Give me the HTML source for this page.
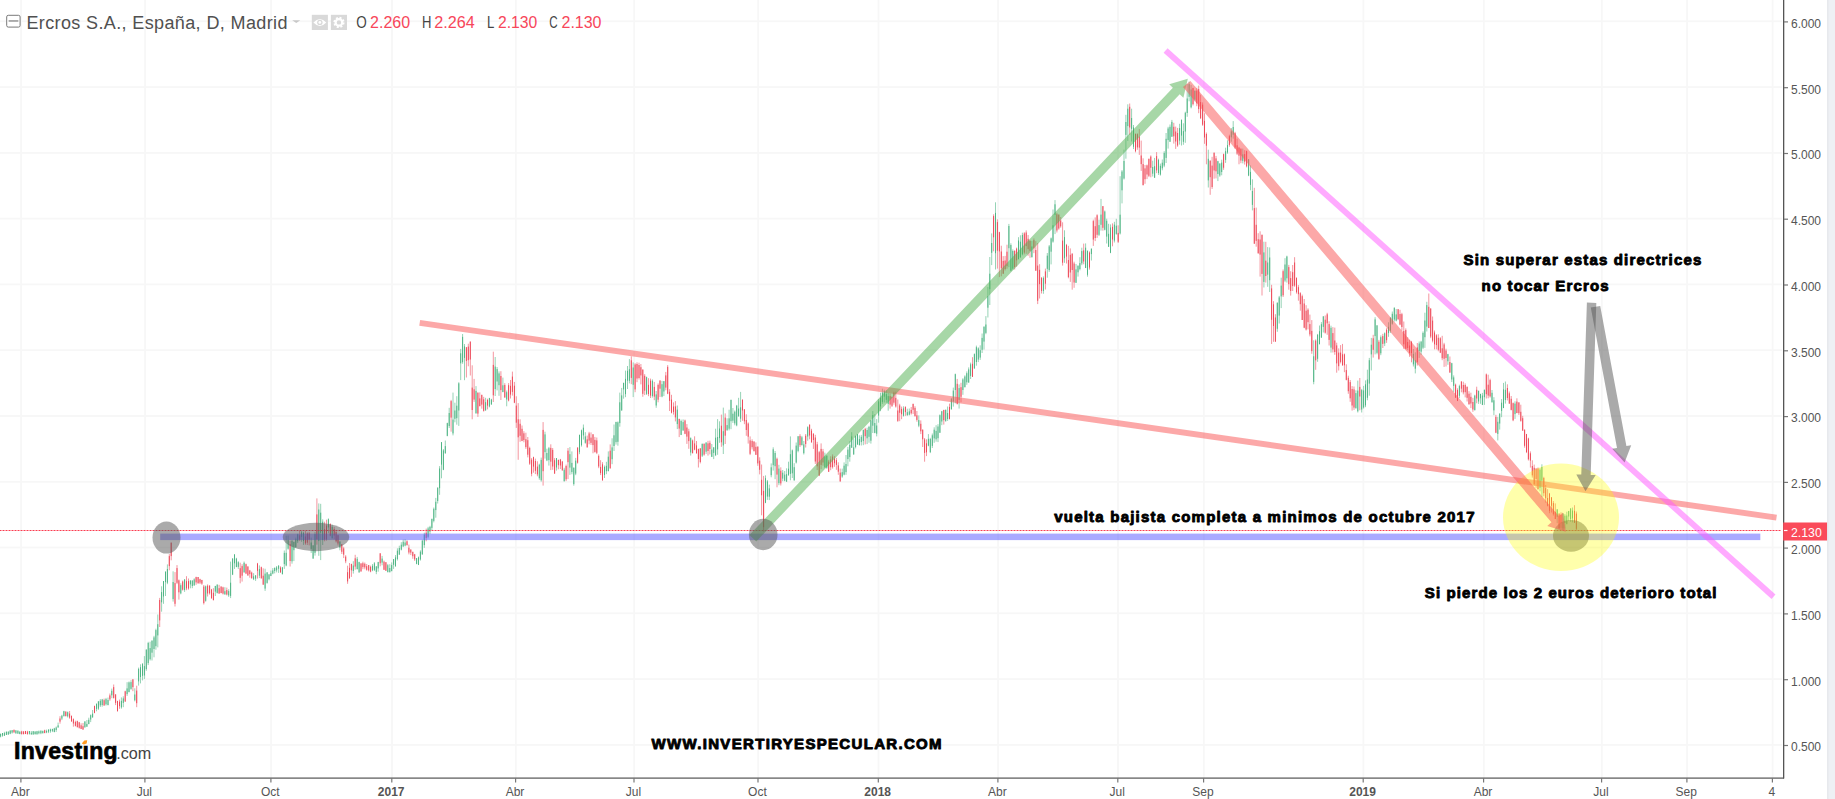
<!DOCTYPE html>
<html><head><meta charset="utf-8"><title>Ercros S.A.</title>
<style>
html,body{margin:0;padding:0;background:#fff;overflow:hidden}
svg{display:block}
text{font-family:"Liberation Sans",sans-serif}
.ab{font-family:"Liberation Sans",sans-serif;font-weight:bold;font-size:15px;fill:#000;stroke:#000;stroke-width:.9px;paint-order:stroke;stroke-linejoin:round}
.ax{font-size:12px;fill:#555}
</style></head><body>
<svg width="1835" height="799" viewBox="0 0 1835 799">
<rect width="1835" height="799" fill="#fff"/>
<g fill="#f7f7f7">
<rect x="20.2" y="0" width="1.8" height="778"/><rect x="144.2" y="0" width="1.8" height="778"/><rect x="270.2" y="0" width="1.8" height="778"/><rect x="391.1" y="0" width="1.8" height="778"/><rect x="514.9" y="0" width="1.8" height="778"/><rect x="633.3" y="0" width="1.8" height="778"/><rect x="757.3" y="0" width="1.8" height="778"/><rect x="877.6" y="0" width="1.8" height="778"/><rect x="997.2" y="0" width="1.8" height="778"/><rect x="1117.1" y="0" width="1.8" height="778"/><rect x="1202.9" y="0" width="1.8" height="778"/><rect x="1362.5" y="0" width="1.8" height="778"/><rect x="1482.9" y="0" width="1.8" height="778"/><rect x="1600.9" y="0" width="1.8" height="778"/><rect x="1686.2" y="0" width="1.8" height="778"/><rect x="1771.7" y="0" width="1.8" height="778"/><rect x="0" y="20.4" width="1782" height="1.8"/><rect x="0" y="86.2" width="1782" height="1.8"/><rect x="0" y="152.0" width="1782" height="1.8"/><rect x="0" y="217.7" width="1782" height="1.8"/><rect x="0" y="283.5" width="1782" height="1.8"/><rect x="0" y="349.3" width="1782" height="1.8"/><rect x="0" y="415.1" width="1782" height="1.8"/><rect x="0" y="480.9" width="1782" height="1.8"/><rect x="0" y="546.6" width="1782" height="1.8"/><rect x="0" y="612.4" width="1782" height="1.8"/><rect x="0" y="678.2" width="1782" height="1.8"/><rect x="0" y="744.0" width="1782" height="1.8"/>
</g>
<g fill="none" stroke-width="1">
<path stroke="#96d3b6" d="M0.6 733.7V737.4M2.5 733.0V736.7M4.4 731.8V736.0M6.4 731.6V735.0M8.3 731.5V734.8M10.2 730.4V734.2M12.1 730.2V733.6M15.9 730.0V733.6M17.9 730.4V733.8M19.8 731.0V734.3M29.4 731.0V734.6M31.3 731.0V734.8M33.2 731.1V734.8M35.1 731.2V734.3M37.0 730.9V734.4M38.9 730.5V734.3M40.9 730.3V734.2M42.8 730.5V733.5M46.6 729.6V733.2M48.5 729.1V733.1M50.4 728.6V732.8M52.4 728.7V732.1M54.3 727.8V732.2M56.2 726.5V731.9M58.1 722.6V727.6M61.9 714.8V720.1M63.9 710.8V716.7M67.7 711.5V717.5M84.9 721.2V727.5M86.9 720.0V726.8M88.8 717.7V724.3M90.7 714.4V722.1M92.6 710.0V717.7M96.5 703.7V711.3M98.4 701.1V709.9M100.3 699.1V707.0M102.2 698.9V706.7M106.0 697.9V705.5M108.0 697.6V705.3M111.8 688.6V698.2M121.4 697.4V708.7M123.3 696.3V707.2M127.1 682.2V695.9M129.0 681.5V692.3M131.0 680.2V689.8M134.8 688.3V701.4M138.6 667.6V685.6M140.5 664.3V683.4M142.5 663.1V680.4M144.4 656.1V679.1M146.3 649.4V670.8M148.2 641.8V665.1M150.1 641.7V660.5M152.0 640.3V660.5M154.0 635.8V657.3M155.9 628.7V649.7M157.8 614.5V647.4M161.6 586.3V611.7M163.5 581.1V603.8M165.5 571.4V596.0M167.4 564.4V584.2M173.1 571.3V601.6M180.8 583.3V594.3M184.6 579.0V591.9M190.4 580.0V588.3M192.3 580.4V588.2M194.2 578.3V585.9M205.7 585.5V601.7M215.3 585.8V596.0M217.2 584.4V593.5M224.9 587.2V594.7M228.7 589.2V596.9M230.6 561.6V598.1M232.6 558.2V575.1M234.5 554.0V568.9M236.4 557.8V567.3M238.3 561.2V568.9M244.1 561.5V572.6M253.6 573.2V580.1M255.6 575.1V580.9M259.4 565.4V578.1M265.1 568.7V590.9M267.1 572.1V583.7M269.0 574.2V580.3M270.9 570.6V576.1M272.8 568.1V574.3M274.7 567.3V573.4M276.6 566.0V572.4M278.6 565.3V572.9M282.4 566.9V574.4M284.3 550.5V568.9M286.2 535.7V566.3M288.1 535.5V549.7M292.0 540.5V563.7M293.9 541.6V561.1M295.8 537.6V547.5M297.7 533.7V543.1M301.6 530.9V541.8M303.5 531.7V544.9M311.2 537.6V552.9M313.1 545.2V559.0M315.0 532.0V555.6M318.8 503.4V555.8M320.7 503.8V560.1M322.7 519.3V545.0M328.4 518.4V533.3M332.2 524.7V538.4M339.9 541.3V550.3M353.3 561.2V573.6M357.2 556.9V569.3M359.1 561.7V572.7M372.5 564.1V571.2M374.4 562.1V571.0M376.3 566.0V574.2M378.2 561.8V571.7M382.1 555.9V565.3M387.8 563.9V572.3M389.8 564.2V572.6M391.7 562.4V571.3M393.6 559.0V568.9M395.5 555.1V566.6M397.4 548.3V560.5M399.3 545.7V554.9M401.3 542.2V550.4M403.2 539.5V547.1M405.1 539.1V546.3M416.6 558.0V564.3M418.5 556.5V565.1M420.4 550.3V560.6M422.3 539.7V554.7M424.3 532.7V547.9M428.1 526.8V538.3M430.0 525.8V534.0M431.9 518.8V530.2M433.8 507.5V522.4M435.8 497.9V517.7M437.7 487.0V503.5M439.6 466.1V494.8M441.5 442.0V478.3M443.4 449.1V470.2M445.3 440.5V453.8M447.3 422.7V436.3M449.2 407.8V428.0M453.0 392.6V435.4M454.9 402.7V422.3M456.8 396.2V424.7M458.8 382.2V425.9M460.7 348.9V380.1M462.6 334.0V363.8M464.5 344.0V380.2M476.0 386.1V413.5M485.6 397.8V410.8M489.4 397.8V407.4M491.4 398.8V404.8M495.2 357.0V396.0M497.1 367.0V390.4M499.0 371.4V395.8M502.9 377.6V392.3M506.7 390.5V406.3M539.3 463.7V479.8M541.2 457.6V481.7M545.0 431.7V458.6M546.9 448.7V461.2M548.9 446.9V465.6M556.5 458.0V470.6M564.2 467.8V481.6M569.9 447.1V474.9M571.9 451.4V474.3M573.8 467.1V485.7M575.7 457.9V475.2M579.5 434.8V454.2M581.5 429.6V446.6M583.4 424.5V439.6M585.3 432.2V443.7M604.5 465.5V478.0M606.4 461.8V474.2M608.3 451.4V471.5M612.1 438.3V464.2M614.0 424.5V451.0M616.0 421.7V444.6M617.9 421.4V445.7M619.8 392.6V426.7M621.7 387.9V410.9M623.6 382.7V398.7M625.5 370.6V397.2M627.5 366.0V389.0M629.4 359.1V383.4M633.2 362.4V397.1M646.6 376.6V395.0M652.4 379.4V397.6M656.2 391.0V407.8M662.0 380.9V397.3M663.9 381.1V396.1M677.3 405.5V429.1M681.1 419.6V435.1M683.1 419.4V430.6M690.7 437.3V455.6M702.2 443.3V457.0M706.1 442.1V453.9M711.8 444.0V457.0M713.7 447.3V459.1M715.6 428.7V456.1M717.6 419.1V454.8M719.5 421.3V442.8M723.3 407.6V454.0M727.1 418.3V430.8M729.1 409.7V430.4M731.0 399.8V429.2M732.9 408.0V422.9M734.8 410.5V425.3M736.7 404.9V426.3M738.6 397.8V416.7M740.6 391.9V422.1M765.5 475.4V503.2M767.4 480.0V499.9M769.3 484.6V500.1M771.2 463.4V477.3M773.2 447.3V470.6M775.1 451.0V479.2M778.9 464.8V485.2M782.7 470.0V481.2M784.7 471.0V481.3M786.6 468.3V481.8M788.5 461.7V475.9M790.4 436.4V480.3M792.3 449.5V478.0M794.2 463.2V480.9M796.2 442.5V463.5M798.1 436.1V452.3M801.9 435.9V445.4M803.8 441.0V454.5M807.7 426.3V440.7M824.9 452.7V468.0M826.8 455.0V468.8M842.2 468.6V477.8M844.1 462.4V475.3M846.0 455.0V474.8M847.9 446.9V466.3M849.8 441.2V461.7M851.7 432.2V447.9M853.7 438.6V454.9M855.6 435.4V448.4M857.5 434.0V445.0M859.4 435.3V445.6M861.3 434.9V445.5M863.3 429.5V445.2M867.1 427.7V444.1M869.0 425.8V442.7M870.9 420.0V443.6M872.8 411.1V433.0M874.8 414.1V433.3M876.7 419.1V436.4M878.6 399.1V422.7M880.5 392.7V411.2M882.4 388.7V403.9M884.3 389.7V402.5M886.3 390.3V402.7M888.2 393.0V410.7M903.5 406.3V416.6M907.3 408.7V415.8M909.3 408.5V415.4M918.8 415.4V427.2M928.4 434.1V446.3M930.3 437.8V453.1M932.3 433.5V448.0M934.2 427.3V442.8M936.1 425.2V441.7M938.0 424.2V442.1M939.9 414.4V433.0M941.8 410.9V425.2M945.7 409.3V421.6M947.6 406.5V420.9M951.4 397.9V409.7M953.3 387.6V406.6M955.3 373.6V403.4M959.1 384.4V408.6M962.9 378.2V394.8M964.9 375.3V387.5M966.8 371.4V384.8M968.7 367.4V382.8M970.6 362.6V379.0M974.4 353.4V368.8M976.4 345.6V365.7M978.3 347.3V362.1M980.2 345.3V359.9M982.1 333.5V353.0M984.0 326.0V349.6M985.9 316.1V334.2M987.9 286.9V317.5M989.8 257.0V305.0M991.7 233.4V265.1M995.5 202.3V269.5M1008.9 223.9V267.2M1010.9 243.3V271.4M1012.8 249.4V269.7M1018.5 237.2V259.3M1020.4 235.3V258.0M1022.4 232.7V255.4M1031.9 240.9V257.3M1043.4 276.4V293.8M1047.3 253.0V277.7M1049.2 245.0V271.9M1051.1 237.5V264.4M1053.0 209.5V242.7M1055.0 200.1V234.1M1064.5 230.3V262.8M1076.0 264.0V282.8M1078.0 265.3V276.6M1079.9 257.2V270.4M1081.8 247.7V265.2M1085.6 243.4V268.1M1087.5 250.5V276.7M1091.4 248.5V260.5M1099.0 219.7V236.1M1101.0 198.9V230.6M1104.8 210.5V230.4M1106.7 218.7V243.5M1108.6 223.8V246.9M1110.5 224.4V253.2M1114.4 221.8V242.5M1116.3 218.8V234.8M1120.1 176.2V234.5M1122.0 170.1V203.4M1124.0 149.6V179.5M1125.9 114.8V158.7M1127.8 104.3V140.9M1131.6 108.7V141.5M1133.5 125.0V149.1M1152.7 160.7V176.5M1154.6 157.9V178.0M1158.5 158.7V174.9M1160.4 163.6V175.6M1162.3 159.5V170.3M1164.2 151.2V167.2M1166.1 133.0V163.0M1168.1 126.8V148.6M1170.0 124.5V142.0M1171.9 119.9V137.0M1179.6 123.8V144.6M1181.5 119.6V145.5M1183.4 123.3V144.8M1185.3 111.7V142.8M1187.2 84.0V116.8M1189.1 81.6V101.3M1191.1 84.9V108.4M1194.9 90.1V101.3M1208.3 149.7V187.5M1217.9 160.8V181.1M1219.8 163.2V176.8M1221.7 159.7V175.3M1225.6 147.7V162.9M1227.5 140.3V153.8M1231.3 128.0V141.7M1233.2 121.1V138.7M1242.8 148.6V163.4M1248.6 159.0V176.2M1250.5 165.4V190.3M1252.4 179.3V210.4M1263.9 241.7V287.5M1267.7 247.1V286.8M1269.7 247.4V292.0M1277.3 302.4V331.8M1279.2 295.9V323.5M1281.2 277.7V308.1M1285.0 258.2V282.2M1286.9 255.7V282.6M1313.7 340.3V384.3M1317.6 333.9V361.8M1319.5 325.5V344.6M1321.4 322.1V338.0M1323.3 316.0V332.5M1331.0 325.7V352.6M1355.9 390.3V408.9M1357.8 380.6V412.5M1361.7 388.9V412.5M1363.6 385.9V408.6M1365.5 380.4V407.2M1367.4 369.7V400.3M1369.3 357.9V395.7M1371.3 337.9V370.4M1375.1 317.2V354.4M1377.0 325.0V354.3M1380.8 335.4V355.2M1384.7 332.4V346.1M1388.5 322.3V336.8M1390.4 317.4V332.9M1392.3 311.5V324.7M1394.3 307.1V321.5M1396.2 309.0V321.4M1413.4 349.0V366.5M1415.3 352.3V373.4M1419.2 341.5V357.9M1421.1 340.8V354.9M1423.0 331.4V349.0M1424.9 312.7V347.9M1426.8 301.8V331.5M1447.9 353.8V364.8M1451.8 362.8V382.0M1453.7 375.4V391.9M1459.4 384.7V398.1M1474.8 394.7V410.7M1478.6 390.7V403.9M1480.5 393.7V403.8M1482.4 392.9V405.1M1484.4 389.6V404.9M1492.0 390.0V402.8M1493.9 397.2V415.2M1497.8 416.9V440.4M1499.7 413.1V429.6M1501.6 399.1V417.2M1503.5 382.9V408.2M1505.4 381.5V403.6M1515.0 401.3V418.9M1540.0 468.1V491.3M1541.9 464.3V497.0M1557.2 509.0V523.2M1563.0 513.0V530.3M1564.9 514.1V528.5M1566.8 511.7V524.4M1568.7 510.9V521.1M1570.6 508.2V521.8M1572.5 507.5V522.4"/>
<path stroke="#f4959f" d="M14.0 729.5V733.1M21.7 730.8V734.4M23.6 731.1V734.4M25.5 730.9V734.1M27.4 730.8V734.3M44.7 729.7V733.2M60.0 716.2V723.7M65.8 711.2V716.3M69.6 711.0V718.8M71.5 715.5V721.5M73.4 718.4V726.7M75.4 720.7V726.5M77.3 720.6V727.4M79.2 721.9V728.6M81.1 723.3V729.0M83.0 723.0V729.9M94.5 705.6V713.3M104.1 698.6V705.9M109.9 693.5V700.8M113.7 684.5V698.6M115.6 694.1V705.1M117.5 700.7V711.6M119.5 699.6V708.8M125.2 690.7V701.7M132.9 679.1V691.2M136.7 685.7V707.2M159.7 597.9V627.0M169.3 554.1V570.3M171.2 542.5V560.3M175.0 572.1V606.5M177.0 565.1V584.1M178.9 579.5V599.6M182.7 580.5V590.6M186.5 576.2V590.2M188.5 578.5V589.7M196.1 576.7V584.8M198.1 577.0V583.8M200.0 578.7V584.0M201.9 579.8V584.8M203.8 585.0V604.5M207.6 584.4V596.5M209.6 585.5V594.6M211.5 588.9V598.6M213.4 588.2V600.3M219.1 584.8V593.7M221.1 586.1V593.2M223.0 586.7V594.5M226.8 587.6V595.4M240.2 562.7V583.3M242.1 564.2V581.6M246.0 563.6V574.1M247.9 566.0V575.7M249.8 569.9V577.7M251.7 571.6V578.7M257.5 562.9V578.6M261.3 566.6V578.6M263.2 568.3V584.9M280.5 566.3V572.5M290.1 540.8V566.5M299.7 530.5V541.1M305.4 530.9V544.8M307.3 532.4V545.0M309.2 531.9V545.4M316.9 498.4V544.7M324.6 521.7V541.3M326.5 519.7V540.6M330.3 523.4V536.3M334.2 526.9V539.2M336.1 529.8V542.5M338.0 534.8V545.5M341.8 544.1V554.0M343.7 546.8V558.1M345.7 555.2V563.2M347.6 565.7V583.8M349.5 563.0V579.0M351.4 563.8V576.9M355.2 554.8V569.7M361.0 563.0V571.7M362.9 561.7V569.2M364.8 562.5V569.3M366.7 564.0V570.7M368.7 565.0V571.5M370.6 565.6V572.3M380.2 553.1V566.3M384.0 560.6V569.8M385.9 562.0V571.0M407.0 540.3V545.6M408.9 544.6V554.4M410.8 549.0V555.1M412.8 551.6V558.8M414.7 553.9V560.9M426.2 528.6V541.3M451.1 399.9V431.7M466.4 347.0V377.5M468.3 343.7V366.3M470.3 341.2V375.5M472.2 365.3V419.3M474.1 378.9V401.9M477.9 392.1V416.9M479.8 392.4V406.4M481.8 394.5V408.7M483.7 396.8V411.6M487.5 398.7V409.4M493.3 351.7V402.0M500.9 371.2V400.0M504.8 383.2V398.0M508.6 383.1V401.4M510.5 380.0V398.5M512.4 371.6V395.6M514.4 381.9V403.2M516.3 396.3V427.9M518.2 403.1V459.8M520.1 419.3V441.8M522.0 425.5V441.2M523.9 431.2V442.3M525.9 432.7V448.9M527.8 437.0V457.4M529.7 446.7V464.9M531.6 458.1V476.3M533.5 456.7V472.7M535.4 458.6V474.1M537.4 461.3V476.3M543.1 422.1V485.6M550.8 444.3V470.1M552.7 448.0V469.8M554.6 458.1V473.8M558.4 459.5V469.3M560.4 458.9V469.0M562.3 460.9V470.7M566.1 464.6V481.1M568.0 448.0V479.1M577.6 447.2V463.6M587.2 435.6V447.5M589.1 431.8V444.3M591.0 432.4V444.9M593.0 434.2V453.3M594.9 436.9V452.7M596.8 437.5V454.1M598.7 454.4V468.2M600.6 460.2V475.1M602.5 462.2V480.8M610.2 444.4V468.7M631.3 356.3V384.2M635.1 363.2V392.2M637.0 362.3V382.2M639.0 362.7V379.5M640.9 364.0V384.4M642.8 369.4V396.8M644.7 374.1V395.1M648.5 378.2V396.2M650.5 378.6V398.0M654.3 381.9V400.2M658.1 383.4V402.3M660.0 380.2V397.0M665.8 371.9V390.3M667.7 365.1V394.2M669.6 389.2V411.0M671.5 394.8V413.4M673.5 402.4V414.6M675.4 401.1V421.4M679.2 418.6V437.1M685.0 419.6V434.2M686.9 424.1V443.9M688.8 428.8V448.8M692.6 439.5V453.4M694.6 436.3V450.3M696.5 441.0V453.9M698.4 448.6V467.5M700.3 448.0V463.4M704.1 443.6V455.7M708.0 440.8V455.6M709.9 440.6V454.4M721.4 414.6V446.8M725.2 413.4V444.0M742.5 399.5V420.8M744.4 409.1V424.2M746.3 414.3V435.8M748.2 422.4V443.6M750.1 436.4V455.1M752.1 439.3V449.5M754.0 441.1V451.4M755.9 442.4V454.9M757.8 446.5V465.8M759.7 457.3V474.4M761.6 464.5V515.3M763.6 475.9V531.5M777.0 457.6V487.3M780.8 467.3V485.5M800.0 434.1V447.0M805.7 434.0V447.5M809.6 424.4V439.3M811.5 428.8V442.5M813.4 433.3V448.9M815.3 434.8V463.9M817.2 441.8V470.1M819.2 450.9V476.1M821.1 443.4V469.1M823.0 448.9V465.7M828.7 459.8V471.9M830.7 456.3V470.2M832.6 454.4V468.6M834.5 456.1V466.8M836.4 457.9V469.8M838.3 462.3V474.8M840.2 468.6V481.5M865.2 427.8V444.4M890.1 393.5V408.6M892.0 396.6V407.0M893.9 391.6V404.7M895.8 391.6V407.6M897.8 399.5V421.9M899.7 403.8V421.2M901.6 406.6V419.2M905.4 406.7V415.9M911.2 407.0V414.6M913.1 403.5V414.0M915.0 406.2V416.7M916.9 411.0V421.7M920.8 420.4V434.1M922.7 429.3V447.0M924.6 438.0V461.7M926.5 439.3V456.1M943.8 409.9V424.6M949.5 403.6V419.5M957.2 378.9V404.5M961.0 382.8V402.3M972.5 357.2V377.0M993.6 214.3V251.3M997.4 219.3V268.6M999.4 231.8V277.1M1001.3 245.7V276.3M1003.2 256.1V274.0M1005.1 255.9V270.5M1007.0 244.7V268.7M1014.7 250.3V269.5M1016.6 247.6V266.7M1024.3 232.2V254.4M1026.2 230.4V253.8M1028.1 235.0V255.8M1030.0 240.7V257.8M1033.9 238.4V253.2M1035.8 241.1V271.0M1037.7 243.0V304.1M1039.6 264.2V298.5M1041.5 277.0V293.5M1045.4 268.6V289.5M1056.9 212.8V232.5M1058.8 214.3V229.7M1060.7 217.0V227.7M1062.6 222.3V265.6M1066.5 243.9V263.5M1068.4 245.8V278.3M1070.3 248.4V281.9M1072.2 253.0V289.7M1074.1 261.7V287.8M1083.7 243.6V264.3M1089.5 251.4V269.6M1093.3 219.7V245.9M1095.2 217.4V241.1M1097.1 214.3V237.9M1102.9 206.0V230.7M1112.5 223.4V246.3M1118.2 225.3V243.0M1129.7 103.5V134.8M1135.5 133.4V152.4M1137.4 133.3V149.8M1139.3 129.1V154.9M1141.2 140.6V170.9M1143.1 158.3V185.3M1145.0 165.0V183.8M1147.0 164.6V179.1M1148.9 158.5V177.1M1150.8 155.4V177.3M1156.6 152.1V173.2M1173.8 122.8V143.6M1175.7 126.6V148.9M1177.6 127.9V146.8M1193.0 87.8V105.5M1196.8 87.9V106.2M1198.7 85.6V113.2M1200.6 94.6V119.1M1202.6 102.4V125.8M1204.5 113.2V143.8M1206.4 132.5V164.3M1210.2 160.0V194.8M1212.1 156.8V188.9M1214.1 152.6V178.7M1216.0 155.9V178.4M1223.6 153.6V169.8M1229.4 134.7V146.7M1235.1 131.8V148.9M1237.1 138.7V154.9M1239.0 146.8V164.3M1240.9 148.1V163.2M1244.7 150.2V164.6M1246.6 150.6V167.4M1254.3 187.8V243.8M1256.2 207.6V246.7M1258.2 233.2V254.0M1260.1 231.3V276.6M1262.0 234.3V295.5M1265.8 241.8V282.6M1271.6 284.8V344.0M1273.5 301.2V341.8M1275.4 314.2V342.0M1283.1 269.5V297.0M1288.8 264.9V289.7M1290.7 271.2V295.6M1292.7 265.0V291.0M1294.6 257.2V286.8M1296.5 277.7V293.6M1298.4 285.1V300.7M1300.3 292.2V310.7M1302.2 294.6V320.0M1304.2 299.0V328.2M1306.1 305.2V330.5M1308.0 308.3V329.4M1309.9 314.6V336.4M1311.8 320.1V353.8M1315.7 339.4V369.8M1325.2 315.5V333.6M1327.2 312.8V334.8M1329.1 321.3V345.5M1332.9 327.1V352.5M1334.8 327.6V354.8M1336.7 342.7V372.7M1338.7 348.4V370.5M1340.6 345.1V363.4M1342.5 343.9V365.8M1344.4 353.5V372.2M1346.3 364.3V380.4M1348.3 375.7V393.8M1350.2 380.0V401.8M1352.1 386.1V410.6M1354.0 386.5V409.9M1359.8 378.0V410.3M1373.2 334.8V357.6M1378.9 339.9V359.9M1382.8 333.8V348.0M1386.6 328.2V342.9M1398.1 309.1V320.1M1400.0 309.8V325.2M1401.9 312.8V330.7M1403.8 321.5V348.9M1405.8 328.4V349.2M1407.7 337.2V350.0M1409.6 339.7V356.8M1411.5 340.9V362.3M1417.3 343.0V365.6M1428.8 293.5V328.1M1430.7 308.4V338.2M1432.6 316.5V342.4M1434.5 330.5V349.4M1436.4 334.2V349.4M1438.3 334.3V351.3M1440.3 337.2V353.1M1442.2 335.8V360.2M1444.1 342.8V366.9M1446.0 348.7V366.5M1449.9 356.5V372.7M1455.6 383.6V397.8M1457.5 388.3V401.1M1461.4 381.3V392.3M1463.3 381.7V394.4M1465.2 383.4V397.4M1467.1 386.4V401.5M1469.0 391.2V405.0M1470.9 392.7V408.1M1472.9 397.8V411.8M1476.7 386.7V403.3M1486.3 373.5V398.5M1488.2 374.7V398.3M1490.1 378.7V397.6M1495.9 414.8V433.2M1507.4 384.3V400.4M1509.3 391.5V403.8M1511.2 396.0V410.4M1513.1 402.5V421.2M1516.9 398.3V413.3M1518.9 402.0V415.0M1520.8 404.7V421.7M1522.7 415.9V430.9M1524.6 429.1V447.7M1526.5 433.9V453.1M1528.4 437.7V460.5M1530.4 451.4V467.6M1532.3 460.3V477.6M1534.2 464.6V485.6M1536.1 468.3V487.9M1538.0 467.5V489.6M1543.8 476.8V496.3M1545.7 485.0V502.7M1547.6 489.2V506.4M1549.5 492.9V513.2M1551.5 497.3V512.5M1553.4 501.1V515.6M1555.3 503.4V519.1M1559.1 513.3V528.8M1561.0 512.3V527.8M1574.5 505.2V523.0M1576.4 511.5V530.3"/>
<path stroke="#4fb585" d="M0.6 733.8V736.6M2.5 733.0V735.6M4.4 733.1V735.7M6.4 731.7V734.9M8.3 731.6V734.5M10.2 730.5V733.7M12.1 730.2V732.6M15.9 730.5V733.4M17.9 730.7V733.6M19.8 731.9V734.0M29.4 731.0V733.8M31.3 732.7V734.3M33.2 731.2V734.4M35.1 731.6V734.3M37.0 731.3V734.4M38.9 731.4V733.3M40.9 730.8V733.3M42.8 731.1V733.2M46.6 730.9V732.5M48.5 729.8V731.7M50.4 729.4V731.3M52.4 729.1V730.8M54.3 728.4V732.1M56.2 727.5V730.0M58.1 725.4V727.5M61.9 715.7V718.6M63.9 711.2V716.0M67.7 712.2V716.3M84.9 721.5V727.4M86.9 723.9V726.7M88.8 719.8V724.0M90.7 715.2V719.5M92.6 713.7V717.4M96.5 703.7V708.9M98.4 701.4V708.7M100.3 700.8V705.4M102.2 699.5V705.0M106.0 699.1V704.3M108.0 700.0V705.1M111.8 690.8V695.3M121.4 700.9V707.4M123.3 698.4V702.9M127.1 688.4V694.1M129.0 682.4V692.1M131.0 682.1V688.9M134.8 694.5V700.3M138.6 668.9V681.4M140.5 667.2V677.0M142.5 664.1V675.8M144.4 666.1V675.5M146.3 649.6V669.1M148.2 643.0V663.1M150.1 648.1V659.2M152.0 640.7V652.7M154.0 637.4V649.0M155.9 630.1V646.2M157.8 624.2V635.4M161.6 592.1V602.3M163.5 581.1V596.5M165.5 571.7V582.1M167.4 569.0V582.7M173.1 582.0V599.1M180.8 585.2V593.4M184.6 579.6V590.0M190.4 580.7V584.4M192.3 580.5V586.0M194.2 579.4V585.3M205.7 586.3V600.8M215.3 586.0V591.6M217.2 584.6V592.9M224.9 591.2V594.4M228.7 591.1V595.4M230.6 582.7V595.9M232.6 558.6V574.6M234.5 554.6V563.3M236.4 558.6V567.0M238.3 562.2V566.9M244.1 562.8V572.4M253.6 576.3V579.2M255.6 575.4V578.7M259.4 569.1V575.7M265.1 573.6V588.6M267.1 572.4V582.9M269.0 574.4V579.2M270.9 573.2V576.0M272.8 570.4V573.6M274.7 568.0V571.0M276.6 567.3V570.4M278.6 565.6V568.8M282.4 567.4V574.2M284.3 552.9V564.1M286.2 552.8V565.5M288.1 540.2V548.7M292.0 540.6V561.3M293.9 541.9V550.2M295.8 539.3V547.3M297.7 534.4V541.3M301.6 532.4V536.9M303.5 532.9V541.0M311.2 542.5V548.9M313.1 545.4V558.4M315.0 534.2V552.9M318.8 509.5V541.1M320.7 512.7V532.8M322.7 521.7V540.1M328.4 519.2V527.5M332.2 526.9V538.3M339.9 541.5V547.8M353.3 565.5V571.0M357.2 558.8V569.2M359.1 562.1V572.4M372.5 565.8V570.3M374.4 563.3V569.9M376.3 566.5V571.9M378.2 562.1V568.4M382.1 558.6V562.6M387.8 565.2V572.2M389.8 568.0V572.1M391.7 565.1V571.1M393.6 559.2V564.8M395.5 557.4V566.3M397.4 550.7V559.1M399.3 548.0V554.6M401.3 544.7V549.7M403.2 541.8V546.4M405.1 542.5V545.6M416.6 558.1V563.9M418.5 557.3V564.9M420.4 551.7V559.5M422.3 540.7V554.4M424.3 534.6V545.1M428.1 528.4V536.8M430.0 526.9V531.6M431.9 518.8V527.9M433.8 508.8V520.9M435.8 501.8V510.1M437.7 488.0V501.0M439.6 468.5V488.2M441.5 442.2V464.6M443.4 450.4V469.8M445.3 446.1V453.2M447.3 423.1V435.9M449.2 413.0V426.0M453.0 419.6V433.4M454.9 410.5V418.8M456.8 405.7V418.2M458.8 383.3V410.5M460.7 353.3V363.3M462.6 336.9V362.1M464.5 346.4V357.9M476.0 390.9V413.4M485.6 402.2V410.3M489.4 398.1V406.5M491.4 399.5V404.4M495.2 366.6V389.1M497.1 369.1V381.5M499.0 373.4V385.2M502.9 385.3V392.0M506.7 392.2V399.5M539.3 464.7V478.2M541.2 459.9V480.3M545.0 434.4V452.1M546.9 453.0V460.4M548.9 448.2V460.1M556.5 458.1V467.5M564.2 469.7V481.2M569.9 454.2V467.6M571.9 462.9V472.1M573.8 468.0V484.1M575.7 460.7V473.6M579.5 434.8V452.2M581.5 430.3V445.2M583.4 427.7V435.4M585.3 436.4V442.8M604.5 467.0V474.9M606.4 465.8V471.2M608.3 456.7V471.0M612.1 447.4V459.2M614.0 435.3V446.0M616.0 422.0V442.2M617.9 422.3V441.8M619.8 402.3V423.1M621.7 395.4V410.3M623.6 382.9V389.4M625.5 378.9V394.1M627.5 370.8V380.7M629.4 369.2V380.8M633.2 367.5V384.8M646.6 377.2V393.9M652.4 380.8V396.0M656.2 394.4V405.5M662.0 384.2V396.5M663.9 381.2V391.5M677.3 409.6V424.1M681.1 421.0V434.9M683.1 422.1V430.6M690.7 438.1V452.5M702.2 444.0V455.7M706.1 442.7V451.7M711.8 449.6V456.8M713.7 447.3V452.9M715.6 437.7V455.2M717.6 437.0V449.4M719.5 428.5V438.1M723.3 431.2V445.4M727.1 425.1V430.2M729.1 418.3V428.7M731.0 399.8V421.2M732.9 413.7V420.7M734.8 411.7V423.4M736.7 405.7V425.4M738.6 408.5V416.3M740.6 407.3V418.7M765.5 478.2V502.8M767.4 481.3V496.6M769.3 488.4V496.7M771.2 467.3V475.2M773.2 449.3V465.2M775.1 453.0V466.2M778.9 468.6V483.2M782.7 472.7V478.6M784.7 474.6V480.7M786.6 474.2V481.7M788.5 468.7V474.9M790.4 454.2V473.9M792.3 450.4V473.3M794.2 467.2V480.2M796.2 445.6V462.5M798.1 436.3V450.9M801.9 437.3V445.2M803.8 444.4V453.2M807.7 427.2V436.5M824.9 456.5V467.1M826.8 456.0V467.8M842.2 472.2V476.6M844.1 465.7V474.6M846.0 464.0V472.1M847.9 449.6V459.1M849.8 444.9V457.1M851.7 436.4V447.7M853.7 447.4V454.3M855.6 436.0V447.0M857.5 434.2V444.3M859.4 439.1V445.0M861.3 436.8V442.1M863.3 430.0V441.1M867.1 430.0V438.3M869.0 426.9V436.8M870.9 420.4V440.7M872.8 415.1V425.7M874.8 423.0V432.9M876.7 425.5V433.7M878.6 401.4V415.6M880.5 397.8V406.4M882.4 392.6V401.9M884.3 391.0V396.7M886.3 394.1V399.8M888.2 396.1V403.9M903.5 408.4V415.8M907.3 412.2V415.2M909.3 411.4V414.7M918.8 420.1V425.7M928.4 438.8V445.7M930.3 439.0V452.1M932.3 435.3V445.9M934.2 429.7V438.4M936.1 430.9V439.3M938.0 426.5V438.2M939.9 415.2V432.7M941.8 411.3V421.5M945.7 410.0V421.2M947.6 413.0V419.0M951.4 399.2V409.2M953.3 390.6V401.5M955.3 374.2V390.0M959.1 388.1V399.9M962.9 379.4V390.0M964.9 376.5V387.1M966.8 373.2V382.3M968.7 369.4V382.5M970.6 364.3V375.9M974.4 354.1V368.4M976.4 347.2V362.0M978.3 348.4V359.6M980.2 350.2V357.6M982.1 337.9V349.8M984.0 327.0V341.6M985.9 324.5V332.9M987.9 296.2V307.7M989.8 273.7V289.2M991.7 243.0V252.8M995.5 212.9V253.2M1008.9 226.0V248.2M1010.9 245.0V270.6M1012.8 251.0V268.6M1018.5 240.5V259.2M1020.4 241.7V257.1M1022.4 235.0V254.3M1031.9 246.5V257.3M1043.4 277.9V291.0M1047.3 255.7V268.9M1049.2 246.4V270.1M1051.1 238.4V251.7M1053.0 225.3V241.6M1055.0 204.3V214.9M1064.5 237.1V258.3M1076.0 269.4V282.8M1078.0 265.8V272.3M1079.9 263.1V269.1M1081.8 251.1V263.4M1085.6 247.7V268.0M1087.5 250.8V274.8M1091.4 248.7V254.1M1099.0 225.1V234.8M1101.0 214.6V224.8M1104.8 211.5V229.8M1106.7 220.8V236.6M1108.6 233.8V246.8M1110.5 227.5V252.8M1114.4 224.6V240.6M1116.3 225.7V233.9M1120.1 214.7V233.5M1122.0 171.5V190.3M1124.0 161.0V178.5M1125.9 122.0V134.9M1127.8 108.7V126.1M1131.6 118.0V128.9M1133.5 127.4V146.8M1152.7 167.0V173.7M1154.6 166.2V177.7M1158.5 159.9V173.0M1160.4 165.8V174.6M1162.3 162.7V168.3M1164.2 152.9V165.6M1166.1 138.8V157.9M1168.1 128.5V140.1M1170.0 126.8V141.7M1171.9 121.9V136.6M1179.6 128.1V140.6M1181.5 119.8V135.6M1183.4 131.1V141.8M1185.3 112.8V131.5M1187.2 98.5V113.0M1189.1 84.2V96.8M1191.1 89.5V107.3M1194.9 91.0V99.6M1208.3 158.8V180.4M1217.9 161.2V174.0M1219.8 163.6V175.5M1221.7 162.6V172.0M1225.6 151.2V159.9M1227.5 145.1V152.5M1231.3 131.4V137.3M1233.2 127.0V134.7M1242.8 154.4V160.8M1248.6 159.4V175.6M1250.5 171.9V184.9M1252.4 191.0V204.9M1263.9 252.4V281.9M1267.7 262.5V274.7M1269.7 257.5V280.2M1277.3 302.8V328.8M1279.2 297.4V315.6M1281.2 285.6V296.4M1285.0 264.5V280.6M1286.9 256.5V278.3M1313.7 356.3V381.9M1317.6 334.8V358.8M1319.5 331.2V344.0M1321.4 324.2V337.5M1323.3 316.5V326.9M1331.0 327.8V347.6M1355.9 393.1V408.0M1357.8 390.6V411.3M1361.7 390.1V409.5M1363.6 390.4V407.5M1365.5 384.3V405.4M1367.4 379.5V397.8M1369.3 360.2V383.6M1371.3 344.7V354.4M1375.1 319.4V336.1M1377.0 325.5V352.8M1380.8 337.2V353.3M1384.7 333.3V343.5M1388.5 326.8V333.1M1390.4 317.7V330.7M1392.3 313.8V323.7M1394.3 308.0V319.6M1396.2 314.4V320.6M1413.4 353.9V364.4M1415.3 360.2V368.7M1419.2 343.5V351.0M1421.1 341.7V351.7M1423.0 332.9V347.7M1424.9 320.5V337.2M1426.8 305.1V326.6M1447.9 354.2V361.3M1451.8 363.2V379.5M1453.7 377.4V385.9M1459.4 386.1V395.8M1474.8 395.6V410.0M1478.6 390.8V401.5M1480.5 394.0V398.3M1482.4 395.5V404.9M1484.4 389.8V397.2M1492.0 392.8V402.1M1493.9 400.3V410.4M1497.8 421.8V433.9M1499.7 413.8V423.5M1501.6 402.7V410.9M1503.5 389.4V408.0M1505.4 389.8V400.0M1515.0 403.6V414.1M1540.0 469.6V487.8M1541.9 467.0V480.7M1557.2 509.5V516.9M1563.0 513.8V528.3M1564.9 515.7V523.0M1566.8 515.5V523.8M1568.7 511.1V516.5M1570.6 508.5V519.2M1572.5 510.6V518.4"/>
<path stroke="#ee4a5a" d="M14.0 729.9V732.2M21.7 731.4V734.2M23.6 731.5V734.1M25.5 731.0V734.0M27.4 731.6V734.3M44.7 730.3V733.1M60.0 718.5V721.6M65.8 711.7V716.2M69.6 713.5V717.7M71.5 715.9V721.5M73.4 719.2V723.5M75.4 722.0V725.8M77.3 721.1V727.2M79.2 722.3V727.8M81.1 725.3V728.9M83.0 726.2V729.5M94.5 706.0V712.9M104.1 700.2V705.4M109.9 695.4V699.3M113.7 687.1V697.9M115.6 694.5V702.9M117.5 701.0V711.1M119.5 701.7V706.1M125.2 691.3V701.6M132.9 679.4V687.1M136.7 690.6V703.2M159.7 600.0V620.4M169.3 556.1V566.1M171.2 542.7V556.1M175.0 583.1V603.8M177.0 568.1V582.8M178.9 580.3V592.3M182.7 581.5V589.7M186.5 581.2V588.4M188.5 581.1V588.5M196.1 577.1V582.4M198.1 577.0V583.2M200.0 579.2V582.6M201.9 580.0V583.6M203.8 586.5V603.1M207.6 585.7V593.5M209.6 585.5V593.3M211.5 589.5V598.3M213.4 592.8V600.2M219.1 588.2V593.6M221.1 586.7V593.1M223.0 587.4V593.6M226.8 590.1V594.5M240.2 568.2V577.9M242.1 566.1V575.7M246.0 564.2V573.5M247.9 566.7V575.5M249.8 570.5V574.1M251.7 572.6V578.2M257.5 563.5V570.8M261.3 567.2V578.3M263.2 575.7V584.6M280.5 567.5V572.5M290.1 544.1V561.0M299.7 535.3V539.6M305.4 536.5V543.4M307.3 533.5V542.7M309.2 533.4V539.4M316.9 514.4V539.3M324.6 529.2V539.5M326.5 525.5V539.3M330.3 523.9V535.6M334.2 529.1V535.5M336.1 532.0V541.3M338.0 535.3V543.5M341.8 544.3V551.8M343.7 548.4V554.6M345.7 556.6V561.3M347.6 572.2V581.4M349.5 567.8V578.0M351.4 563.9V570.3M355.2 558.3V566.6M361.0 563.6V571.4M362.9 563.2V567.1M364.8 563.8V567.4M366.7 566.2V569.8M368.7 565.1V570.4M370.6 566.8V571.6M380.2 553.4V563.3M384.0 561.7V569.8M385.9 562.3V570.7M407.0 541.3V545.1M408.9 547.7V552.5M410.8 549.8V552.6M412.8 551.9V556.2M414.7 554.3V559.4M426.2 532.7V537.9M451.1 401.1V417.6M466.4 347.3V360.9M468.3 346.6V360.2M470.3 341.8V359.5M472.2 387.6V410.0M474.1 389.3V399.6M477.9 392.9V413.6M479.8 398.4V406.1M481.8 395.0V404.6M483.7 399.3V410.9M487.5 400.0V405.6M493.3 364.9V395.3M500.9 376.0V390.1M504.8 385.0V397.3M508.6 385.2V400.5M510.5 385.8V394.6M512.4 376.6V391.9M514.4 385.7V402.7M516.3 405.6V422.7M518.2 419.3V437.3M520.1 423.8V435.8M522.0 428.8V440.9M523.9 433.3V440.1M525.9 439.2V447.1M527.8 440.2V454.7M529.7 448.0V463.7M531.6 459.7V473.8M533.5 457.1V466.6M535.4 461.0V470.8M537.4 466.6V474.4M543.1 429.9V471.2M550.8 447.9V461.7M552.7 449.9V466.5M554.6 460.2V473.6M558.4 460.0V465.2M560.4 459.5V465.5M562.3 461.6V470.3M566.1 466.0V479.3M568.0 450.7V462.2M577.6 447.7V462.7M587.2 439.3V447.4M589.1 433.4V440.6M591.0 437.6V442.9M593.0 434.3V445.1M594.9 439.9V451.9M596.8 440.4V452.8M598.7 455.9V466.5M600.6 466.9V473.1M602.5 464.3V480.2M610.2 450.7V468.3M631.3 360.3V377.9M635.1 364.5V389.4M637.0 364.0V378.5M639.0 365.0V378.0M640.9 367.2V375.4M642.8 369.6V393.8M644.7 375.8V390.7M648.5 384.8V394.0M650.5 380.6V395.6M654.3 386.9V396.6M658.1 384.9V399.7M660.0 380.6V388.7M665.8 375.4V387.6M667.7 366.9V393.7M669.6 391.8V400.9M671.5 399.6V412.7M673.5 406.5V411.9M675.4 406.4V417.4M679.2 419.0V428.6M685.0 420.5V433.8M686.9 427.5V436.6M688.8 431.3V441.1M692.6 440.5V453.2M694.6 443.4V449.7M696.5 445.4V453.0M698.4 449.1V459.0M700.3 448.5V462.0M704.1 443.7V454.6M708.0 443.4V451.0M709.9 442.8V449.0M721.4 425.7V442.3M725.2 417.6V435.7M742.5 399.7V410.5M744.4 409.4V421.3M746.3 420.0V430.0M748.2 423.5V436.7M750.1 440.4V453.8M752.1 441.0V447.2M754.0 441.7V451.2M755.9 446.8V454.8M757.8 446.6V463.4M759.7 460.7V469.8M761.6 479.8V495.3M763.6 490.9V527.2M777.0 458.8V474.6M780.8 470.7V483.4M800.0 435.9V445.2M805.7 435.7V444.0M809.6 424.7V435.5M811.5 430.6V442.4M813.4 433.7V440.0M815.3 437.5V461.5M817.2 444.3V466.3M819.2 452.2V475.5M821.1 448.9V464.9M823.0 451.4V462.5M828.7 461.6V471.8M830.7 459.5V467.2M832.6 456.6V467.2M834.5 458.6V463.2M836.4 460.1V464.9M838.3 465.4V471.7M840.2 472.6V481.5M865.2 428.9V436.2M890.1 396.2V404.6M892.0 396.8V405.8M893.9 392.7V402.7M895.8 397.9V406.5M897.8 410.5V420.9M899.7 405.4V412.8M901.6 408.9V414.2M905.4 406.7V412.1M911.2 409.9V413.3M913.1 404.0V409.8M915.0 407.9V416.1M916.9 415.3V419.9M920.8 423.8V431.3M922.7 429.8V439.3M924.6 439.4V452.9M926.5 443.3V452.3M943.8 409.9V420.2M949.5 407.0V418.9M957.2 383.8V404.0M961.0 387.2V396.8M972.5 363.8V376.8M993.6 216.1V237.3M997.4 222.1V250.7M999.4 232.2V251.4M1001.3 251.5V268.4M1003.2 260.9V273.6M1005.1 260.5V269.1M1007.0 251.7V266.2M1014.7 250.9V267.0M1016.6 248.6V260.3M1024.3 233.4V252.6M1026.2 232.5V246.1M1028.1 238.8V249.1M1030.0 240.7V250.9M1033.9 240.2V248.4M1035.8 250.0V270.6M1037.7 265.6V300.8M1039.6 269.8V284.2M1041.5 278.1V290.9M1045.4 271.4V283.7M1056.9 214.3V230.5M1058.8 214.7V228.5M1060.7 220.5V226.3M1062.6 240.6V262.7M1066.5 245.0V256.6M1068.4 260.0V277.1M1070.3 254.8V272.5M1072.2 253.9V270.0M1074.1 263.5V282.5M1083.7 250.4V261.5M1089.5 252.5V267.5M1093.3 221.1V239.6M1095.2 226.2V238.0M1097.1 215.3V234.8M1102.9 206.2V227.8M1112.5 226.8V239.5M1118.2 232.9V241.8M1129.7 106.8V127.5M1135.5 134.0V151.2M1137.4 134.2V147.4M1139.3 136.6V147.6M1141.2 155.5V164.1M1143.1 164.1V185.2M1145.0 168.4V179.2M1147.0 165.4V174.5M1148.9 158.9V175.8M1150.8 156.6V167.8M1156.6 156.1V170.4M1173.8 126.8V136.3M1175.7 131.5V141.5M1177.6 133.0V145.5M1193.0 88.1V104.2M1196.8 90.7V103.3M1198.7 89.1V109.1M1200.6 102.0V118.2M1202.6 104.7V124.7M1204.5 120.9V137.5M1206.4 134.0V145.7M1210.2 161.0V177.2M1212.1 165.6V187.0M1214.1 152.7V170.5M1216.0 158.4V171.3M1223.6 154.2V167.7M1229.4 136.2V144.9M1235.1 133.2V147.5M1237.1 145.3V153.7M1239.0 147.7V155.7M1240.9 149.1V160.5M1244.7 154.1V161.7M1246.6 151.1V166.3M1254.3 208.1V243.7M1256.2 224.8V240.9M1258.2 239.2V253.0M1260.1 239.5V254.6M1262.0 235.0V273.9M1265.8 260.7V276.0M1271.6 288.4V319.8M1273.5 304.3V326.0M1275.4 317.5V341.5M1283.1 271.2V295.3M1288.8 267.1V284.2M1290.7 278.1V291.0M1292.7 272.2V286.1M1294.6 262.5V285.6M1296.5 277.7V292.2M1298.4 287.2V294.2M1300.3 293.2V304.2M1302.2 296.2V320.0M1304.2 303.5V327.7M1306.1 310.7V329.5M1308.0 309.7V322.2M1309.9 324.1V334.4M1311.8 330.9V351.1M1315.7 340.7V360.3M1325.2 319.7V332.7M1327.2 314.3V323.3M1329.1 324.1V339.9M1332.9 333.1V349.4M1334.8 340.5V352.0M1336.7 345.4V363.4M1338.7 352.6V366.2M1340.6 352.6V361.9M1342.5 354.3V365.2M1344.4 354.3V365.3M1346.3 370.1V379.9M1348.3 377.8V391.2M1350.2 382.1V398.3M1352.1 389.0V405.5M1354.0 389.4V407.6M1359.8 386.9V396.5M1373.2 338.3V349.8M1378.9 341.7V358.9M1382.8 336.1V343.9M1386.6 329.7V340.2M1398.1 309.2V319.1M1400.0 314.0V324.5M1401.9 314.2V327.0M1403.8 331.0V344.3M1405.8 330.1V348.7M1407.7 342.0V348.0M1409.6 345.5V353.0M1411.5 341.9V353.1M1417.3 347.4V362.1M1428.8 306.8V328.0M1430.7 308.5V336.6M1432.6 320.6V340.7M1434.5 332.5V344.3M1436.4 335.3V345.1M1438.3 337.8V349.8M1440.3 338.3V352.7M1442.2 348.3V358.2M1444.1 344.4V358.8M1446.0 350.5V358.0M1449.9 362.0V372.6M1455.6 384.7V397.7M1457.5 390.0V400.8M1461.4 381.5V388.7M1463.3 385.0V392.4M1465.2 385.0V392.2M1467.1 386.9V397.8M1469.0 393.7V404.0M1470.9 396.8V403.5M1472.9 402.0V409.5M1476.7 389.8V398.5M1486.3 374.4V394.2M1488.2 384.7V395.6M1490.1 380.1V396.4M1495.9 416.9V432.7M1507.4 388.0V398.0M1509.3 393.3V403.6M1511.2 398.8V409.9M1513.1 403.2V420.3M1516.9 401.6V413.0M1518.9 402.6V413.2M1520.8 411.8V420.8M1522.7 418.2V430.6M1524.6 430.0V445.8M1526.5 434.1V452.0M1528.4 438.5V459.3M1530.4 453.3V460.6M1532.3 466.0V475.4M1534.2 467.8V484.2M1536.1 468.6V479.1M1538.0 468.5V489.1M1543.8 478.0V493.2M1545.7 488.1V498.2M1547.6 498.0V505.8M1549.5 493.6V510.9M1551.5 497.3V505.8M1553.4 503.1V514.2M1555.3 511.8V519.0M1559.1 513.7V528.1M1561.0 514.9V523.3M1574.5 510.9V522.6M1576.4 513.6V528.8"/>
</g>
<line x1="-0.5" y1="530.45" x2="1781.5" y2="530.45" stroke="#fa3c50" stroke-width="1.1" stroke-dasharray="2 1"/>
<rect x="160.2" y="533.6" width="1600.1" height="6.5" fill="#5555ff" fill-opacity=".5"/>
<line x1="419.7" y1="322.9" x2="1776.5" y2="517.6" stroke="#fa5252" stroke-opacity=".5" stroke-width="5.9"/>
<polygon points="756.3,541.5 1179.7,94.2 1183.4,97.7 1187.8,78.8 1169.2,84.2 1172.9,87.7 749.4,535.1" fill="#50b050" fill-opacity=".5"/>
<line x1="1165.6" y1="50.5" x2="1773.5" y2="596.7" stroke="#ff55ff" stroke-opacity=".5" stroke-width="5.9"/>
<ellipse cx="166.5" cy="537.6" rx="14" ry="16" fill="#555" fill-opacity=".5"/>
<ellipse cx="316" cy="537" rx="33.3" ry="14.2" fill="#555" fill-opacity=".5"/>
<ellipse cx="763.2" cy="534.5" rx="14.3" ry="15.7" fill="#555" fill-opacity=".5"/>
<ellipse cx="1571" cy="535.8" rx="18" ry="15.9" fill="#555" fill-opacity=".5"/>
<ellipse cx="1561" cy="517.3" rx="58" ry="53.7" fill="#ffff00" fill-opacity=".33"/>
<polygon points="1183.0,87.1 1551.4,522.3 1547.3,525.9 1565.8,531.8 1563.0,512.6 1558.8,516.1 1190.4,80.9" fill="#fa5252" fill-opacity=".5"/>
<polygon points="1586.9,302.6 1581.3,474.6 1576.3,474.4 1585.5,491.3 1595.7,475.0 1590.7,474.9 1596.3,302.9" fill="#555" fill-opacity=".5"/>
<polygon points="1590.8,307.6 1617.0,447.9 1612.2,448.8 1624.6,462.5 1631.2,445.2 1626.4,446.1 1600.2,305.9" fill="#555" fill-opacity=".5"/>
<text class="ab" x="1463.5" y="264.7" textLength="237.8" lengthAdjust="spacing">Sin superar estas directrices</text>
<text class="ab" x="1481.6" y="290.5" textLength="127" lengthAdjust="spacing">no tocar Ercros</text>
<text class="ab" x="1054.2" y="521.5" textLength="420.3" lengthAdjust="spacing">vuelta bajista completa a minimos de octubre 2017</text>
<text class="ab" x="1424.8" y="597.7" textLength="291.6" lengthAdjust="spacing">Si pierde los 2 euros deterioro total</text>
<text class="ab" x="651.6" y="748.7" textLength="290" lengthAdjust="spacing">WWW.INVERTIRYESPECULAR.COM</text>
<rect x="1783" y="0" width="1.3" height="778.5" fill="#555"/>
<rect x="0" y="777.5" width="1784" height="1.2" fill="#555"/>
<g stroke="#777" stroke-width="1.2"><line x1="1784" y1="21.9" x2="1788" y2="21.9"/><line x1="1784" y1="87.7" x2="1788" y2="87.7"/><line x1="1784" y1="153.5" x2="1788" y2="153.5"/><line x1="1784" y1="219.2" x2="1788" y2="219.2"/><line x1="1784" y1="285.0" x2="1788" y2="285.0"/><line x1="1784" y1="350.8" x2="1788" y2="350.8"/><line x1="1784" y1="416.6" x2="1788" y2="416.6"/><line x1="1784" y1="482.4" x2="1788" y2="482.4"/><line x1="1784" y1="548.1" x2="1788" y2="548.1"/><line x1="1784" y1="613.9" x2="1788" y2="613.9"/><line x1="1784" y1="679.7" x2="1788" y2="679.7"/><line x1="1784" y1="745.5" x2="1788" y2="745.5"/><line x1="20.9" y1="778" x2="20.9" y2="782.6"/><line x1="144.9" y1="778" x2="144.9" y2="782.6"/><line x1="270.9" y1="778" x2="270.9" y2="782.6"/><line x1="391.8" y1="778" x2="391.8" y2="782.6"/><line x1="515.6" y1="778" x2="515.6" y2="782.6"/><line x1="634.0" y1="778" x2="634.0" y2="782.6"/><line x1="758.0" y1="778" x2="758.0" y2="782.6"/><line x1="878.3" y1="778" x2="878.3" y2="782.6"/><line x1="997.9" y1="778" x2="997.9" y2="782.6"/><line x1="1117.8" y1="778" x2="1117.8" y2="782.6"/><line x1="1203.6" y1="778" x2="1203.6" y2="782.6"/><line x1="1363.2" y1="778" x2="1363.2" y2="782.6"/><line x1="1483.6" y1="778" x2="1483.6" y2="782.6"/><line x1="1601.6" y1="778" x2="1601.6" y2="782.6"/><line x1="1686.9" y1="778" x2="1686.9" y2="782.6"/><line x1="1772.4" y1="778" x2="1772.4" y2="782.6"/></g>
<text class="ax" x="1791" y="27.7">6.000</text><text class="ax" x="1791" y="93.5">5.500</text><text class="ax" x="1791" y="159.3">5.000</text><text class="ax" x="1791" y="225.0">4.500</text><text class="ax" x="1791" y="290.8">4.000</text><text class="ax" x="1791" y="356.6">3.500</text><text class="ax" x="1791" y="422.4">3.000</text><text class="ax" x="1791" y="488.2">2.500</text><text class="ax" x="1791" y="553.9">2.000</text><text class="ax" x="1791" y="619.7">1.500</text><text class="ax" x="1791" y="685.5">1.000</text><text class="ax" x="1791" y="751.3">0.500</text>
<text class="ax" x="20.3" y="795.6" text-anchor="middle">Abr</text><text class="ax" x="144.3" y="795.6" text-anchor="middle">Jul</text><text class="ax" x="270.3" y="795.6" text-anchor="middle">Oct</text><text class="ax" x="391.2" y="795.6" text-anchor="middle" font-weight="bold">2017</text><text class="ax" x="515.0" y="795.6" text-anchor="middle">Abr</text><text class="ax" x="633.4" y="795.6" text-anchor="middle">Jul</text><text class="ax" x="757.4" y="795.6" text-anchor="middle">Oct</text><text class="ax" x="877.7" y="795.6" text-anchor="middle" font-weight="bold">2018</text><text class="ax" x="997.3" y="795.6" text-anchor="middle">Abr</text><text class="ax" x="1117.2" y="795.6" text-anchor="middle">Jul</text><text class="ax" x="1203.0" y="795.6" text-anchor="middle">Sep</text><text class="ax" x="1362.6" y="795.6" text-anchor="middle" font-weight="bold">2019</text><text class="ax" x="1483.0" y="795.6" text-anchor="middle">Abr</text><text class="ax" x="1601.0" y="795.6" text-anchor="middle">Jul</text><text class="ax" x="1686.3" y="795.6" text-anchor="middle">Sep</text><text class="ax" x="1771.8" y="795.6" text-anchor="middle">4</text>
<rect x="1783.2" y="522.5" width="44.1" height="18" fill="#fa4b5a"/>
<line x1="1784" y1="530.5" x2="1787.5" y2="530.5" stroke="#fff" stroke-width="1.2"/>
<text x="1791" y="536.7" font-size="12.3" fill="#fff">2.130</text>
<rect x="1827.3" y="0" width="8" height="799" fill="#eef0f4"/><rect x="1827.3" y="0" width="1" height="799" fill="#e1e4e9"/>
<rect x="6.7" y="15.3" width="13.4" height="11.8" rx="1.6" fill="#fff" stroke="#6a6a6a" stroke-width="0.9"/>
<rect x="8.6" y="20" width="9.8" height="1.9" fill="#aaa"/>
<text x="26.4" y="29" font-size="18" fill="#505050" textLength="261" lengthAdjust="spacing">Ercros S.A., España, D, Madrid</text>
<polygon points="292.2,20.2 300.3,20.2 296.25,23" fill="#c8c8c8"/>
<rect x="311.8" y="14.8" width="16.1" height="15.2" fill="#d9d9d9"/><rect x="330.9" y="14.8" width="16.1" height="15.2" fill="#d9d9d9"/>
<path d="M313.4 22.4Q319.85 15.4 326.3 22.4Q319.85 29.4 313.4 22.4Z" fill="#fff"/><circle cx="319.85" cy="22.4" r="2.7" fill="#d9d9d9"/><circle cx="319.85" cy="22.4" r="1.4" fill="#fff"/>
<circle cx="338.95" cy="22.4" r="4.4" fill="none" stroke="#fff" stroke-width="2.4" stroke-dasharray="1.9 1.556"/><circle cx="338.95" cy="22.4" r="3.3" fill="none" stroke="#fff" stroke-width="2.2"/>
<text x="356.2" y="27.8" font-size="16" fill="#444" textLength="10.5" lengthAdjust="spacingAndGlyphs">O</text><text x="370.1" y="27.8" font-size="16" fill="#f7465a" textLength="40" lengthAdjust="spacingAndGlyphs">2.260</text><text x="422" y="27.8" font-size="16" fill="#444" textLength="9.4" lengthAdjust="spacingAndGlyphs">H</text><text x="434.3" y="27.8" font-size="16" fill="#f7465a" textLength="40.5" lengthAdjust="spacingAndGlyphs">2.264</text><text x="487" y="27.8" font-size="16" fill="#444" textLength="7.3" lengthAdjust="spacingAndGlyphs">L</text><text x="498" y="27.8" font-size="16" fill="#f7465a" textLength="39.3" lengthAdjust="spacingAndGlyphs">2.130</text><text x="549.2" y="27.8" font-size="16" fill="#444" textLength="8.4" lengthAdjust="spacingAndGlyphs">C</text><text x="561.5" y="27.8" font-size="16" fill="#f7465a" textLength="40" lengthAdjust="spacingAndGlyphs">2.130</text>
<text x="14" y="758.8" font-size="23" font-weight="bold" fill="#000" stroke="#000" stroke-width=".7" textLength="103.6" lengthAdjust="spacing">Investing</text>
<text x="116.2" y="758.8" font-size="17" fill="#444" textLength="35" lengthAdjust="spacingAndGlyphs">.com</text>
<rect x="81.3" y="739.3" width="7" height="5.2" fill="#fff"/><polygon points="81.8,743.6 84.3,740.6 87.2,740.2 86.7,743.5 83.8,744.5" fill="#ff9a1f"/>
</svg>
</body></html>
